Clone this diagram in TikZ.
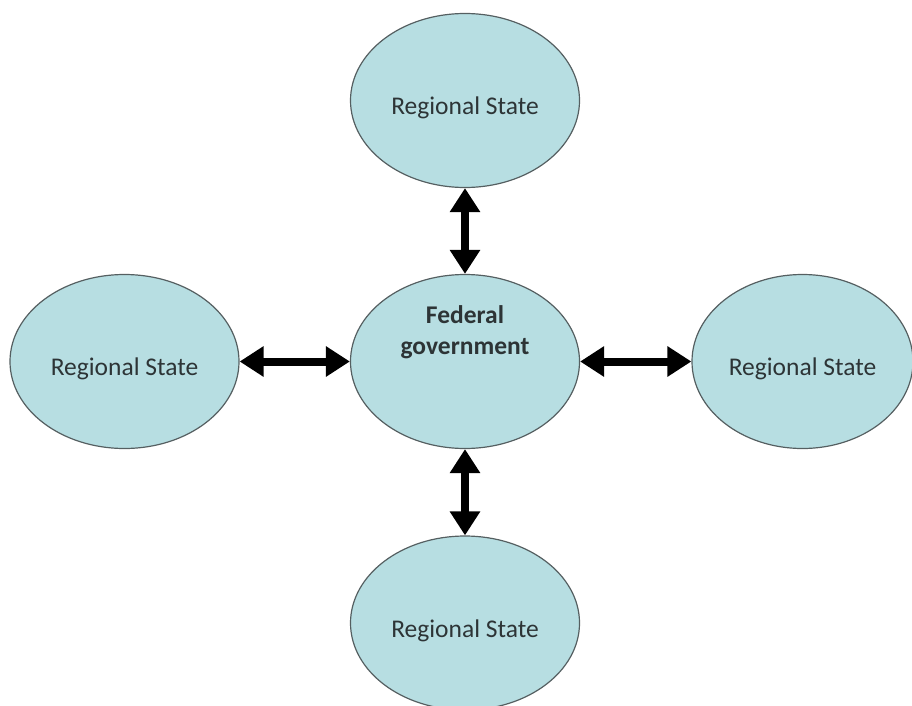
\documentclass[tikz,border=0pt]{standalone}
\usepackage{fontspec}
\setmainfont{Carlito}
\usetikzlibrary{shapes.geometric,arrows.meta}
\definecolor{statefill}{RGB}{183,222,226}
\definecolor{statedraw}{RGB}{85,95,97}
\definecolor{statetext}{RGB}{45,52,54}
\begin{document}
\begin{tikzpicture}[x=1pt,y=-1pt,
    region/.style={ellipse,draw=statedraw,line width=1.2pt,fill=statefill,minimum width=229pt,minimum height=174pt,inner sep=0pt,text=statetext,font=\fontsize{25.5}{31}\selectfont,text height=28pt,text depth=0pt},
    link/.style={line width=8pt,{Triangle[width=29pt,length=24pt]}-{Triangle[width=29pt,length=24pt]}}]
      \useasboundingbox (0,0) rectangle (912,706);

      \node[region] (top) at (465,100.5) {Regional State};
      \node[region] (left) at (124.5,361.5) {Regional State};
      \node[region,minimum width=221pt] (right) at (802.5,361.5) {Regional State};
      \node[region] (bottom) at (465,623) {Regional State};
      \node[region,font=\bfseries\fontsize{25.5}{31}\selectfont,text height=0pt,text depth=15pt] (fed) at (465,361.5) {\begin{tabular}[b]{@{}c@{}}Federal\\government\end{tabular}};

      \draw[link] (top) -- (fed);
      \draw[link] (left) -- (fed);
      \draw[link] (fed) -- (right);
      \draw[link] (fed) -- (bottom);
    \end{tikzpicture}
\end{document}
